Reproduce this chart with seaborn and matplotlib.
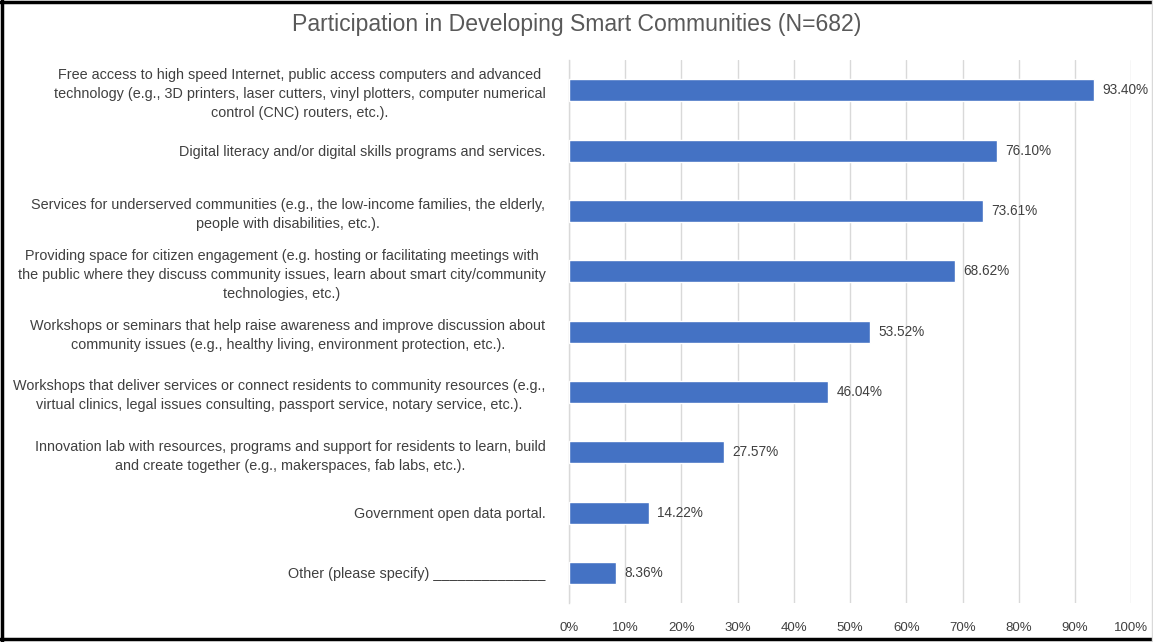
import matplotlib
matplotlib.use("Agg")
import matplotlib.pyplot as plt
import seaborn as sns
import pandas as pd
from matplotlib.lines import Line2D

# data
categories = [
    "Free access to high speed Internet, public access computers and advanced\n"
    "technology (e.g., 3D printers, laser cutters, vinyl plotters, computer numerical\n"
    "control (CNC) routers, etc.).",
    "Digital literacy and/or digital skills programs and services.",
    "Services for underserved communities (e.g., the low-income families, the elderly,\n"
    "people with disabilities, etc.).",
    "Providing space for citizen engagement (e.g. hosting or facilitating meetings with\n"
    "the public where they discuss community issues, learn about smart city/community\n"
    "technologies, etc.)",
    "Workshops or seminars that help raise awareness and improve discussion about\n"
    "community issues (e.g., healthy living, environment protection, etc.).",
    "Workshops that deliver services or connect residents to community resources (e.g.,\n"
    "virtual clinics, legal issues consulting, passport service, notary service, etc.).",
    "Innovation lab with resources, programs and support for residents to learn, build\n"
    "and create together (e.g., makerspaces, fab labs, etc.).",
    "Government open data portal.",
    "Other (please specify) ______________",
]
percent = [93.40, 76.10, 73.61, 68.62, 53.52, 46.04, 27.57, 14.22, 8.36]
xticks = list(range(0, 101, 10))
title = "Participation in Developing Smart Communities (N=682)"

df = pd.DataFrame({"label": categories, "pct": percent})

sns.set_style("white")
plt.rcParams["font.family"] = ["Liberation Sans", "DejaVu Sans"]

bar_color = "#4472C4"
text_color = "#404040"

fig = plt.figure(figsize=(11.53, 6.42), dpi=100)
ax = fig.add_axes([0.4935, 0.0607, 0.4876, 0.8458])

sns.barplot(data=df, x="pct", y="label", color=bar_color, width=0.365,
            saturation=1, ax=ax, orient="h", zorder=3)

ax.set_xlim(0, 100)
ax.set_xticks(xticks)
ax.set_xticklabels([f"{t}%" for t in xticks], fontsize=9.5, color=text_color)
ax.tick_params(axis="x", length=0, pad=14)
ax.tick_params(axis="y", length=0, pad=17)
for lab in ax.get_yticklabels():
    lab.set_fontsize(10.4)
    lab.set_color(text_color)
    lab.set_multialignment("center")
    lab.set_linespacing(1.45)
ax.set_xlabel("")
ax.set_ylabel("")
ax.grid(axis="x", color="#D9D9D9", linewidth=1, zorder=0)

for s in ["top", "right", "bottom"]:
    ax.spines[s].set_visible(False)
ax.spines["left"].set_color("#D9D9D9")
ax.spines["left"].set_linewidth(1)

for i, v in enumerate(percent):
    ax.text(v + 1.5, i, f"{v:.2f}%", va="center", ha="left",
            fontsize=9.8, color=text_color)

fig.text(0.5, 0.962, title, ha="center", va="center", fontsize=16.6,
         color="#595959")

# outer frame like the screenshot
fig.add_artist(Line2D([0.0015, 0.0015], [0, 1], transform=fig.transFigure,
                      color="black", linewidth=2.5))
fig.add_artist(Line2D([0, 1], [0.9975, 0.9975], transform=fig.transFigure,
                      color="black", linewidth=2.5))
fig.add_artist(Line2D([0, 1], [0.004, 0.004], transform=fig.transFigure,
                      color="black", linewidth=2.5))
fig.add_artist(Line2D([0.9992, 0.9992], [0, 1], transform=fig.transFigure,
                      color="#D9D9D9", linewidth=1))

fig.savefig("out.png", dpi=100)
